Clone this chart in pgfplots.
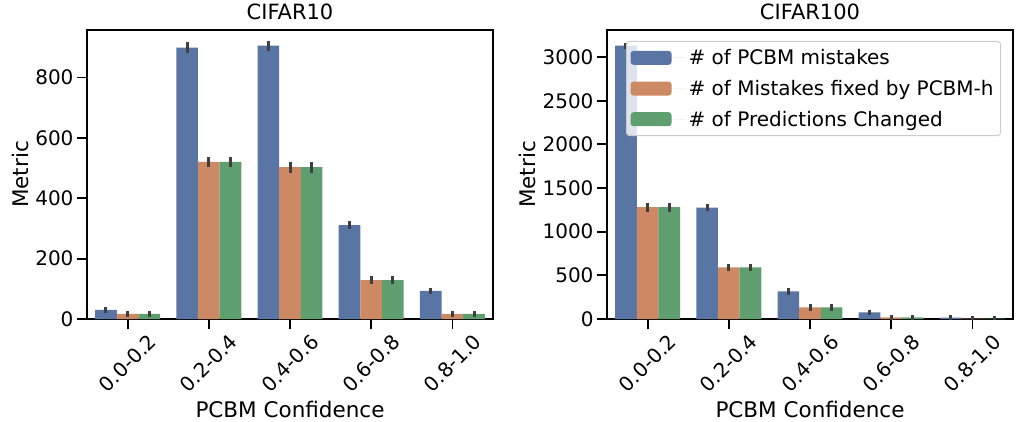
\documentclass[border=0pt]{standalone}
\usepackage{fontspec}
\setmainfont{DejaVu Sans}
\usepackage{pgfplots}
\pgfplotsset{compat=1.18}
\definecolor{cblue}{HTML}{5975A4}
\definecolor{corange}{HTML}{CC8963}
\definecolor{cgreen}{HTML}{5F9E6E}
\definecolor{ebar}{HTML}{3F3F3F}

\pgfplotsset{
  mybars/.style={
    scale only axis, width=406pt, height=289pt,
    xmin=-0.5, xmax=4.5, ymin=0,
    xtick={0,1,2,3,4},
    xticklabels={0.0-0.2,0.2-0.4,0.4-0.6,0.6-0.8,0.8-1.0},
    axis line style={line width=1.8pt},
    tick align=outside, major tick length=10pt,
    every tick/.style={line width=1.8pt, black},
    xtick pos=left, ytick pos=left,
    ticklabel style={font=\fontsize{20}{24}\selectfont},
    /pgf/number format/assume math mode=true,
    /pgf/number format/set thousands separator={},
    scaled y ticks=false,
    every x tick label/.style={yshift=-34pt, rotate=45, anchor=center},
    title style={font=\fontsize{21}{25}\selectfont, at={(axis description cs:0.5,1)}, anchor=base, yshift=5pt},
    every axis x label/.style={at={(axis description cs:0.5,0)}, anchor=base, yshift=-98pt, font=\fontsize{21.5}{25}\selectfont},
    xlabel={PCBM Confidence},
    ylabel={Metric},
  },
  barB/.style={ybar, bar shift=0pt, bar width=0.2667, fill=cblue, draw=none,
    error bars/.cd, y dir=both, y explicit, error mark=none,
    error bar style={line width=3pt, ebar, line cap=rect}, /pgfplots/.cd},
  barO/.style={ybar, bar shift=0pt, bar width=0.2667, fill=corange, draw=none,
    error bars/.cd, y dir=both, y explicit, error mark=none,
    error bar style={line width=3pt, ebar, line cap=rect}, /pgfplots/.cd},
  barG/.style={ybar, bar shift=0pt, bar width=0.2667, fill=cgreen, draw=none,
    error bars/.cd, y dir=both, y explicit, error mark=none,
    error bar style={line width=3pt, ebar, line cap=rect}, /pgfplots/.cd},
}

\begin{document}
\begin{tikzpicture}
\path[use as bounding box] (0pt,0pt) rectangle (1016pt,-421pt);

% ---------------- CIFAR10 ----------------
\begin{axis}[mybars, at={(87pt,-319pt)}, anchor=south west,
  ymax=957, ytick={0,200,400,600,800}, title={CIFAR10},
  every axis y label/.style={at={(axis description cs:-0.145,0.5)}, rotate=90, anchor=base, font=\fontsize{21.5}{25}\selectfont}]
\addplot[barB] table[x=x, y=y, y error=e] {
x y e
-0.2667 30 5
0.7333 899 12
1.7333 905 12
2.7333 311 9
3.7333 93 6
};
\addplot[barO] table[x=x, y=y, y error=e] {
x y e
0 17 5
1 520 13
2 503 13
3 129 8
4 17 5
};
\addplot[barG] table[x=x, y=y, y error=e] {
x y e
0.2667 17 5
1.2667 520 13
2.2667 503 13
3.2667 129 8
4.2667 17 5
};
\end{axis}

% ---------------- CIFAR100 ----------------
\begin{axis}[mybars, at={(607pt,-319pt)}, anchor=south west,
  ymax=3310, ytick={0,500,1000,1500,2000,2500,3000}, title={CIFAR100},
  every axis y label/.style={at={(axis description cs:-0.177,0.5)}, rotate=90, anchor=base, font=\fontsize{21.5}{25}\selectfont},
  legend style={at={(axis description cs:0.047,0.962)}, anchor=north west,
    fill=white, fill opacity=0.8, text opacity=1, draw=black!20, draw opacity=1,
    rounded corners=3pt, line width=1pt, font=\fontsize{20}{24}\selectfont,
    inner xsep=4pt, inner ysep=5pt, row sep=8pt,
    nodes={inner sep=3pt}},
  legend cell align=left]
\addplot[legend image code/.code={\fill[cblue, fill opacity=1] (0pt,-7pt) rectangle (41pt,7pt); \path (0pt,0pt) -- (55pt,0pt);}, barB] table[x=x, y=y, y error=e] {
x y e
-0.2667 3130 15
0.7333 1276 25
1.7333 317 20
2.7333 76 15
3.7333 15 10
};
\addlegendentry{\# of PCBM mistakes}
\addplot[legend image code/.code={\fill[corange, fill opacity=1] (0pt,-7pt) rectangle (41pt,7pt); \path (0pt,0pt) -- (55pt,0pt);}, barO] table[x=x, y=y, y error=e] {
x y e
0 1280 35
1 590 20
2 133 20
3 18 12
4 3 10
};
\addlegendentry{\# of Mistakes fixed by PCBM-h}
\addplot[legend image code/.code={\fill[cgreen, fill opacity=1] (0pt,-7pt) rectangle (41pt,7pt); \path (0pt,0pt) -- (55pt,0pt);}, barG] table[x=x, y=y, y error=e] {
x y e
0.2667 1280 35
1.2667 590 20
2.2667 133 20
3.2667 20 12
4.2667 3 10
};
\addlegendentry{\# of Predictions Changed}
\end{axis}
\end{tikzpicture}
\end{document}
